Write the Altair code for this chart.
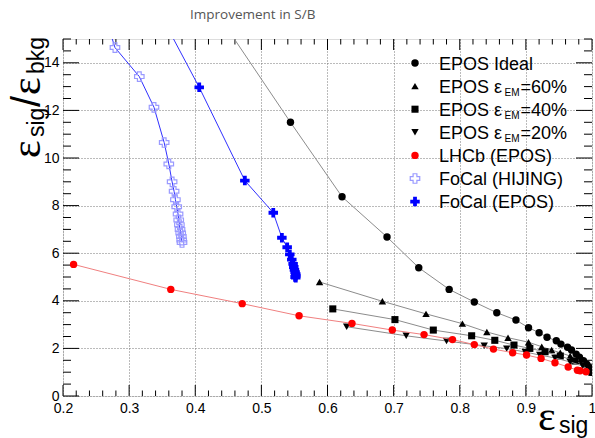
import altair as alt
import pandas as pd

# ---------------- data: signal efficiency vs. S/B improvement ----------------
ideal_x = [0.430, 0.544, 0.622, 0.690, 0.738, 0.784, 0.822, 0.856, 0.885, 0.904, 0.920,
           0.932, 0.946, 0.953, 0.963, 0.969, 0.976, 0.981, 0.987, 0.992, 0.997, 1.000]
ideal_y = [16.20, 11.50, 8.37, 6.68, 5.39, 4.48, 3.95, 3.50, 3.19, 2.87, 2.66,
           2.47, 2.32, 2.18, 2.05, 1.93, 1.76, 1.63, 1.48, 1.34, 1.18, 1.00]

em60_x = [0.588, 0.683, 0.749, 0.804, 0.841, 0.873, 0.904, 0.924, 0.939, 0.952, 0.967, 0.982, 0.997, 1.000]
em60_y = [4.79, 3.98, 3.45, 3.04, 2.69, 2.45, 2.26, 2.07, 1.93, 1.82, 1.68, 1.47, 1.18, 1.00]

em40_x = [0.608, 0.702, 0.760, 0.818, 0.853, 0.882, 0.906, 0.929, 0.952, 0.974, 0.994, 1.000]
em40_y = [3.66, 3.21, 2.77, 2.53, 2.34, 2.14, 2.00, 1.86, 1.68, 1.47, 1.22, 1.00]

em20_x = [0.629, 0.719, 0.780, 0.837, 0.871, 0.899, 0.921, 0.944, 0.967, 0.986, 1.000]
em20_y = [2.91, 2.53, 2.31, 2.11, 1.99, 1.85, 1.72, 1.60, 1.43, 1.26, 1.00]

lhcb_x = [0.216, 0.363, 0.471, 0.557, 0.637, 0.698, 0.746, 0.789, 0.822, 0.851, 0.880,
          0.901, 0.923, 0.944, 0.964, 0.978, 0.982, 0.991]
lhcb_y = [5.53, 4.48, 3.88, 3.37, 3.05, 2.77, 2.58, 2.37, 2.16, 1.97, 1.82,
          1.72, 1.58, 1.40, 1.22, 1.08, 1.06, 1.02]

hijing_x = [0.270, 0.2786, 0.3154, 0.3376, 0.353, 0.360, 0.365, 0.368, 0.370, 0.372,
            0.374, 0.375, 0.376, 0.377, 0.378, 0.379, 0.3795, 0.380]
hijing_y = [15.40, 14.64, 13.42, 12.13, 10.65, 9.75, 9.00, 8.60, 8.25, 7.95,
            7.65, 7.40, 7.20, 7.00, 6.85, 6.70, 6.55, 6.45]

focal_x = [0.350, 0.406, 0.475, 0.518, 0.531, 0.539, 0.543, 0.546, 0.548, 0.549,
           0.550, 0.551, 0.552, 0.552, 0.551, 0.552]
focal_y = [15.90, 12.97, 9.05, 7.70, 6.65, 6.25, 5.95, 5.73, 5.55, 5.42,
           5.30, 5.20, 5.12, 5.05, 5.00, 4.97]

# axis tick values
x_major = [0.2, 0.3, 0.4, 0.5, 0.6, 0.7, 0.8, 0.9, 1.0]
y_major = [0, 2, 4, 6, 8, 10, 12, 14]

# ---------------- styling ----------------
W, H = 529, 357
SANS = "Liberation Sans"
SERIF = "Liberation Serif"

# (name, xs, ys, marker shape, marker colour, line colour, filled, marker size)
series = [
    ("EPOS Ideal", ideal_x, ideal_y, "circle", "black", "#8c8c8c", True, 55),
    ("EPOS 60", em60_x, em60_y, "triangle-up", "black", "#8c8c8c", True, 55),
    ("EPOS 40", em40_x, em40_y, "square", "black", "#8c8c8c", True, 50),
    ("EPOS 20", em20_x, em20_y, "triangle-down", "black", "#8c8c8c", True, 55),
    ("LHCb (EPOS)", lhcb_x, lhcb_y, "circle", "#ff0000", "#f08080", True, 55),
    ("FoCal (HIJING)", hijing_x, hijing_y, "cross", "#9a9aff", "#3030ff", False, 90),
    ("FoCal (EPOS)", focal_x, focal_y, "cross", "#0000ff", "#3030ff", True, 90),
]

xscale = alt.Scale(domain=[0.2, 1.0], nice=False, zero=False)
yscale = alt.Scale(domain=[0, 15], nice=False, zero=False)
xaxis = alt.Axis(values=x_major, format="~g", title=None, grid=True, ticks=False,
                 domain=False, labelFont=SANS, labelFontSize=14, labelColor="black",
                 labelPadding=5, gridColor="#777777", gridDash=[1, 2], gridWidth=1,
                 labelFlush=False, labelOverlap=False)
yaxis = alt.Axis(values=y_major, format="d", title=None, grid=True, ticks=False,
                 domain=False, labelFont=SANS, labelFontSize=14, labelColor="black",
                 labelPadding=4, gridColor="#777777", gridDash=[1, 2], gridWidth=1,
                 labelFlush=False, labelOverlap=False)

layers = []

# inward tick marks on all four sides of the frame
x_minor = [round(0.2 + 0.02 * i, 2) for i in range(41) if i % 5]
y_minor = [0.5 * i for i in range(31) if i % 4]
for vals, length in ((x_major, 11), (x_minor, 5.5)):
    tdf = pd.DataFrame({"t": vals})
    for y0, y1 in ((H, H - length), (0, length)):
        layers.append(alt.Chart(tdf).mark_rule(color="black", strokeWidth=1).encode(
            x=alt.X("t:Q", scale=xscale, axis=xaxis), y=alt.value(y0), y2=alt.value(y1)))
for vals, length in ((y_major, 16), (y_minor, 8)):
    tdf = pd.DataFrame({"t": vals})
    for x0, x1 in ((0, length), (W, W - length)):
        layers.append(alt.Chart(tdf).mark_rule(color="black", strokeWidth=1).encode(
            y=alt.Y("t:Q", scale=yscale, axis=yaxis), x=alt.value(x0), x2=alt.value(x1)))

# graphs: connecting line then markers
for name, xs, ys, shape, mcol, lcol, filled, size in series:
    df = pd.DataFrame({"x": xs, "y": ys, "i": range(len(xs))})
    base = alt.Chart(df).encode(
        x=alt.X("x:Q", scale=xscale, axis=xaxis),
        y=alt.Y("y:Q", scale=yscale, axis=yaxis),
    )
    layers.append(base.mark_line(clip=True, color=lcol, strokeWidth=1).encode(order="i:Q"))
    if filled:
        pts = base.mark_point(clip=True, filled=True, shape=shape, size=size,
                              color=mcol, opacity=1)
    else:
        pts = base.mark_point(clip=True, filled=False, shape=shape, size=size,
                              color=mcol, strokeWidth=1.2, opacity=1)
    layers.append(pts)

one = pd.DataFrame({"k": [0]})


def text(s, x, y, size, font=SANS, angle=0, color="black", baseline="alphabetic"):
    return alt.Chart(one).mark_text(
        text=s, font=font, fontSize=size, color=color, align="left",
        baseline=baseline, angle=angle,
    ).encode(x=alt.value(x), y=alt.value(y))


# legend
legend_rows = [
    ("EPOS Ideal", None, None),
    ("EPOS \u03b5", "EM", "=60%"),
    ("EPOS \u03b5", "EM", "=40%"),
    ("EPOS \u03b5", "EM", "=20%"),
    ("LHCb (EPOS)", None, None),
    ("FoCal (HIJING)", None, None),
    ("FoCal (EPOS)", None, None),
]
LX, LY, LSTEP = 352, 24, 23.1
for k, ((main, sub, tail), (_, _, _, shape, mcol, _, filled, size)) in enumerate(zip(legend_rows, series)):
    ry = LY + k * LSTEP
    if filled:
        m = alt.Chart(one).mark_point(filled=True, shape=shape, size=size, color=mcol, opacity=1)
    else:
        m = alt.Chart(one).mark_point(filled=False, shape=shape, size=size, color=mcol,
                                      strokeWidth=1.2, opacity=1)
    layers.append(m.encode(x=alt.value(LX), y=alt.value(ry)))
    layers.append(text(main, LX + 24, ry + 6.5, 18))
    if sub:
        layers.append(text(sub, LX + 89.5, ry + 10, 10))
        layers.append(text(tail, LX + 105.5, ry + 6.5, 18))

# title
layers.append(text("Improvement in S/B", 127, -20, 13.5, font="Open Sans", color="#555555"))

# x-axis title: epsilon_sig
layers.append(text("\u03b5", 475, 391, 42, font=SERIF))
layers.append(text("sig", 496, 394, 23))

# y-axis title: epsilon_sig / epsilon_bkg (rotated)
layers.append(text("\u03b5", -23, 119, 42, font=SERIF, angle=270))
layers.append(text("sig", -19, 98, 23, angle=270))
layers.append(text("/", -23, 68, 40, angle=270))
layers.append(text("\u03b5", -23, 56, 42, font=SERIF, angle=270))
layers.append(text("bkg", -19, 35, 23, angle=270))

chart = alt.layer(*layers).properties(
    width=W, height=H,
    autosize=alt.AutoSizeParams(type="none"),
    padding={"left": 63, "top": 39, "right": 3, "bottom": 42},
).configure_view(stroke="black", strokeWidth=1).configure(background="white")

chart.save("out.html", embed_options={"renderer": "svg", "actions": False})
